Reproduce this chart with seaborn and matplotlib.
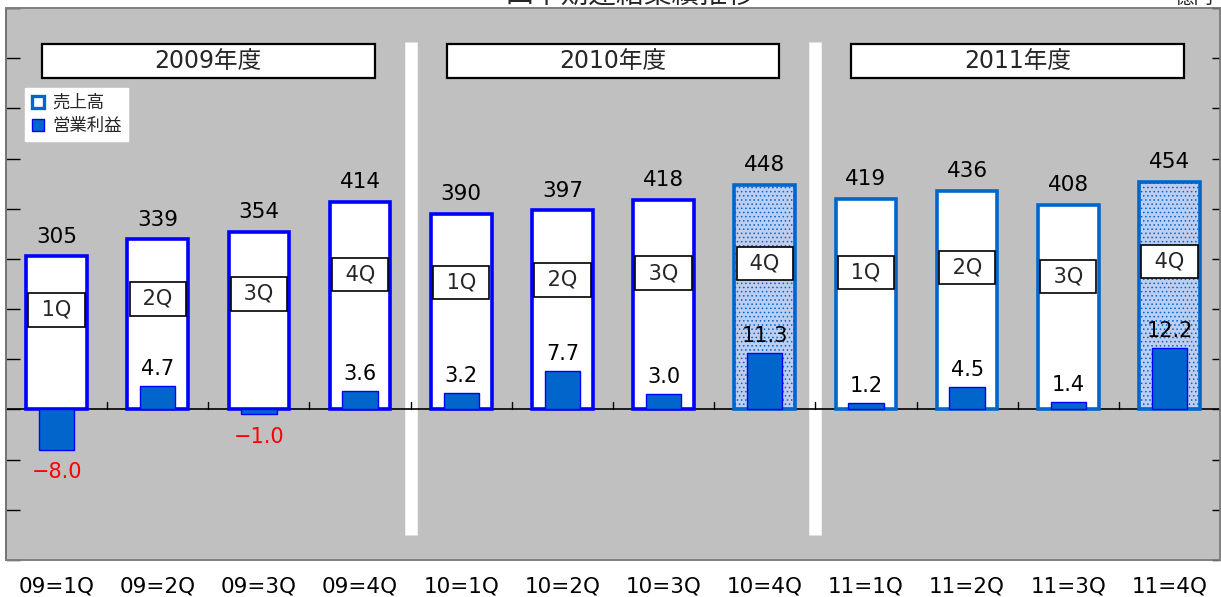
import matplotlib
matplotlib.use('Agg')
import matplotlib.pyplot as plt
import seaborn as sns
import pandas as pd
from matplotlib.patches import Patch, Rectangle
import matplotlib.transforms as mtransforms

# データ（億円）
quarters = ['09=1Q', '09=2Q', '09=3Q', '09=4Q', '10=1Q', '10=2Q', '10=3Q', '10=4Q',
            '11=1Q', '11=2Q', '11=3Q', '11=4Q']
q_labels = ['1Q', '2Q', '3Q', '4Q'] * 3
sales = [305, 339, 354, 414, 390, 397, 418, 448, 419, 436, 408, 454]
profit = [-8.0, 4.7, -1.0, 3.6, 3.2, 7.7, 3.0, 11.3, 1.2, 4.5, 1.4, 12.2]
years = ['2009年度', '2010年度', '2011年度']

sns.set_theme(style='white')
plt.rcParams['font.family'] = ['DejaVu Sans', 'Noto Sans CJK JP']
plt.rcParams['axes.unicode_minus'] = True
plt.rcParams['hatch.linewidth'] = 0.6

df = pd.DataFrame({'期': quarters, '売上高': sales, '営業利益': profit})

fig = plt.figure(figsize=(12.21, 5.97), dpi=100)
ax = fig.add_axes([6 / 1221, 37 / 597, 1214 / 1221, 552 / 597])
ax.set_facecolor('#C0C0C0')
ax2 = ax.twinx()

# 売上高
sns.barplot(data=df, x='期', y='売上高', ax=ax, width=0.6, color='white',
            saturation=1, edgecolor='#0000FF', linewidth=2.6)
for i, p in enumerate(ax.patches):
    if i >= 7:
        p.set_edgecolor('#0066CC')
    if q_labels[i] == '4Q' and i >= 4:
        p.set_facecolor('#BCCEF2')
        p.set_hatch('....')

# 営業利益
sns.barplot(data=df, x='期', y='営業利益', ax=ax2, width=0.35, color='#0066CC',
            saturation=1, edgecolor='#0000FF', linewidth=1)

ax.set_ylim(-300, 800)
ax2.set_ylim(-30, 80)
ax.set_xlim(-0.5, len(quarters) - 0.5)
ax.set_yticks(range(-300, 801, 100))
ax2.set_yticks(range(-30, 81, 10))
ax.set_xlabel('')
ax.set_ylabel('')
ax2.set_ylabel('')
ax.tick_params(axis='y', direction='in', length=10, width=1, color='black', labelleft=False, left=True)
ax2.tick_params(axis='y', direction='in', length=6, width=1, color='black', labelright=False, right=True)
ax.tick_params(axis='x', length=0, pad=12, labelsize=15.5, labelcolor='black')

for a in (ax, ax2):
    for s in a.spines.values():
        s.set_color('#808080')
        s.set_linewidth(1.2)
ax.spines['left'].set_color('#222222')

# ゼロ線と区切りの目盛り
ax.axhline(0, color='black', lw=1.2, zorder=0.8)
for i in range(len(quarters) - 1):
    ax.plot([i + 0.5, i + 0.5], [0, 14], color='black', lw=1, zorder=0.8)

# 年度の区切り線
trans = mtransforms.blended_transform_factory(ax.transData, ax.transAxes)
for xs in (3.5, 7.5):
    ax.plot([xs, xs], [0.045, 0.938], color='white', lw=9, transform=trans,
            solid_capstyle='butt', zorder=0.7)

# 年度ボックス
for k, y in enumerate(years):
    x0 = 4 * k - 0.145
    ax.add_patch(Rectangle((x0, 0.873), 3.29, 0.062, transform=trans,
                           facecolor='white', edgecolor='black', lw=1.6, zorder=3))
    ax.text(x0 + 1.645, 0.904, y, transform=trans, ha='center', va='center',
            fontsize=17, zorder=4)

# 値ラベル
for i, v in enumerate(sales):
    ax.annotate(str(v), (i, v), xytext=(0, 7), textcoords='offset points',
                ha='center', va='bottom', fontsize=15.5, color='black')
    ax.text(i, v * 0.65, ' ' + q_labels[i] + ' ', ha='center', va='center', fontsize=15,
            bbox=dict(boxstyle='square,pad=0.32', fc='white', ec='black', lw=1.2), zorder=4)

for i, v in enumerate(profit):
    if v < 0:
        ax2.annotate(f'{v:.1f}'.replace('-', '−'), (i, v), xytext=(0, -9), textcoords='offset points',
                     ha='center', va='top', fontsize=15, color='#FF0000')
    else:
        ax2.annotate(f'{v:.1f}', (i, v), xytext=(0, 5), textcoords='offset points',
                     ha='center', va='bottom', fontsize=15, color='black')

# 凡例
handles = [Patch(facecolor='white', edgecolor='#0066CC', lw=2.4, label='売上高'),
           Patch(facecolor='#0066CC', edgecolor='#0000FF', lw=1, label='営業利益')]
leg = ax2.legend(handles=handles, loc='upper left', bbox_to_anchor=(0.016, 0.855),
                 fontsize=12.5, frameon=True, fancybox=False, handlelength=0.7,
                 handleheight=0.7, handletextpad=0.5, borderpad=0.35, labelspacing=0.3,
                 borderaxespad=0)
leg.get_frame().set_facecolor('white')
leg.get_frame().set_edgecolor('white')
leg.get_frame().set_alpha(1)

# 上端で切れたタイトル（元画像でも上が切れている）
fig.text(0.516, 1 - 3 / 597, '四半期連結業績推移', ha='center', va='baseline', fontsize=20)
fig.text(0.978, 1 - 3 / 597, '億円', ha='center', va='baseline', fontsize=14)

fig.savefig('out.png', dpi=100, facecolor='white')
